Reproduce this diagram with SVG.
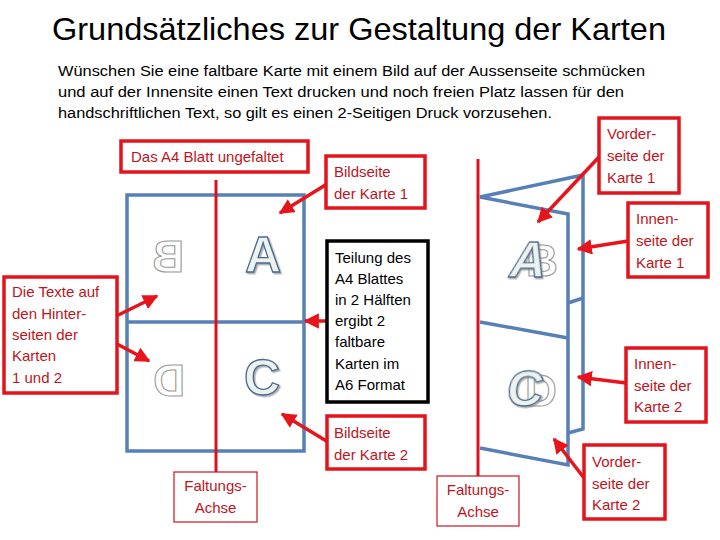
<svg xmlns="http://www.w3.org/2000/svg" width="720" height="540" viewBox="0 0 720 540">
<defs>
<style>
.title{font-family:"Liberation Sans",Arial,sans-serif;font-size:32px;fill:#000}
.para{font-family:"Liberation Sans",Arial,sans-serif;font-size:15.5px;fill:#000}
.rbox{fill:#fff;stroke:#E3141C;stroke-width:3.5}
.tbox{fill:#fff;stroke:#C8161E;stroke-width:1.2}
.kbox{fill:#fff;stroke:#000;stroke-width:3.5}
.rt{font-family:"Liberation Sans",Arial,sans-serif;font-size:15px;fill:#C0141C}
.kt{font-family:"Liberation Sans",Arial,sans-serif;font-size:15px;fill:#000}
.blue{fill:none;stroke:#5780B6;stroke-width:3.5;stroke-linejoin:miter}
.fold{stroke:#D9141E;stroke-width:3;fill:none}
.arr{stroke:#E8141C;stroke-width:3.5;fill:none;marker-end:url(#ah)}
.big{font-family:"Liberation Sans",Arial,sans-serif;font-weight:bold;font-size:50px;fill:#EEF2EE;stroke:#4A6B90;stroke-width:1.3}
.ghost{font-family:"Liberation Sans",Arial,sans-serif;font-weight:bold;font-size:44px;fill:#fff;stroke:#9A9A9A;stroke-width:1.1}
</style>
<marker id="ah" viewBox="0 0 10 10" refX="9" refY="5" markerWidth="4.4" markerHeight="4.4" orient="auto" markerUnits="strokeWidth">
<path d="M0,0 L10,5 L0,10 z" fill="#E8141C"/>
</marker>
<filter id="sh" x="-20%" y="-20%" width="150%" height="150%">
<feDropShadow dx="1.5" dy="1.5" stdDeviation="0.6" flood-color="#777" flood-opacity="0.6"/>
</filter>
</defs>
<rect width="720" height="540" fill="#fff"/>

<g id="title"><text class="title" x="52" y="40" textLength="614" lengthAdjust="spacingAndGlyphs">Grundsätzliches zur Gestaltung der Karten</text></g>
<g id="intro">
<text class="para" x="58" y="76" textLength="587" lengthAdjust="spacingAndGlyphs">Wünschen Sie eine faltbare Karte mit einem Bild auf der Aussenseite schmücken</text>
<text class="para" x="58" y="97" textLength="566" lengthAdjust="spacingAndGlyphs">und auf der Innensite einen Text drucken und noch freien Platz lassen für den</text>
<text class="para" x="58" y="118" textLength="494" lengthAdjust="spacingAndGlyphs">handschriftlichen Text, so gilt es einen 2-Seitigen Druck vorzusehen.</text>
</g>

<g id="sheet-flat">
<rect class="blue" x="127" y="195" width="177" height="256"/>
<line class="blue" x1="127" y1="322" x2="304" y2="322"/>
<text class="ghost" transform="translate(184,272) scale(-1,1)" x="0" y="0">B</text>
<text class="ghost" transform="translate(185,396) scale(-1,1)" x="0" y="0">D</text>
<text class="big" x="245" y="272" filter="url(#sh)">A</text>
<text class="big" x="244" y="395" filter="url(#sh)">C</text>
</g>

<g id="sheet-folded">
<polyline class="blue" points="480,197 583,175 583,429 568,433"/>
<line class="blue" x1="568" y1="303" x2="583" y2="298"/>
<polygon points="480,197 568,214 568,465 480,448" fill="#fff" stroke="none"/>
<polyline class="blue" points="480,197 568,214 568,465 480,448"/>
<line class="blue" x1="480" y1="322" x2="568" y2="338"/>
<text class="ghost" x="526" y="276" font-size="40">B</text>
<text class="big" x="0" y="0" transform="translate(507,277) skewX(-14)" filter="url(#sh)">A</text>
<text class="ghost" x="525" y="406" font-size="40">D</text>
<text class="big" x="0" y="0" transform="translate(505,406) skewX(-8)" filter="url(#sh)">C</text>
</g>

<g id="connectors">
<line class="fold" x1="216" y1="180" x2="216" y2="472"/>
<line class="fold" x1="478" y1="159" x2="478" y2="476"/>
<line class="arr" x1="599" y1="157" x2="538" y2="222"/>
<line class="arr" x1="628" y1="241" x2="578" y2="249"/>
<line class="arr" x1="626" y1="383" x2="578" y2="377"/>
<line class="arr" x1="584" y1="478" x2="554" y2="439"/>
<line class="arr" x1="327" y1="184" x2="280" y2="213"/>
<line class="arr" x1="327" y1="321" x2="305" y2="321"/>
<line class="arr" x1="328" y1="442" x2="282" y2="414"/>
<line class="arr" x1="102" y1="323" x2="157" y2="296"/>
<line class="arr" x1="102" y1="336" x2="149" y2="361"/>
</g>

<g id="box-a4">
<rect class="rbox" x="121" y="141" width="187" height="31"/>
<text class="rt" x="131" y="162">Das A4 Blatt ungefaltet</text>
</g>
<g id="box-rueckseiten">
<rect class="rbox" x="4" y="277" width="113" height="116"/>
<text class="rt" x="12" y="297">Die Texte auf</text>
<text class="rt" x="12" y="319">den Hinter-</text>
<text class="rt" x="12" y="340">seiten der</text>
<text class="rt" x="12" y="361">Karten</text>
<text class="rt" x="12" y="383">1 und 2</text>
</g>
<g id="box-bildseite1">
<rect class="rbox" x="326" y="156" width="99" height="52"/>
<text class="rt" x="334" y="177">Bildseite</text>
<text class="rt" x="334" y="199">der Karte 1</text>
</g>
<g id="box-teilung">
<rect class="kbox" x="327" y="241" width="101" height="161"/>
<text class="kt" x="335" y="263">Teilung des</text>
<text class="kt" x="335" y="284">A4 Blattes</text>
<text class="kt" x="335" y="305">in 2 Hälften</text>
<text class="kt" x="335" y="326">ergibt 2</text>
<text class="kt" x="335" y="347">faltbare</text>
<text class="kt" x="335" y="369">Karten im</text>
<text class="kt" x="335" y="390">A6 Format</text>
</g>
<g id="box-bildseite2">
<rect class="rbox" x="327" y="416" width="98" height="53"/>
<text class="rt" x="334" y="438">Bildseite</text>
<text class="rt" x="334" y="460">der Karte 2</text>
</g>
<g id="box-faltung1">
<rect class="tbox" x="174" y="472" width="83" height="50"/>
<text class="rt" x="215.5" y="491" text-anchor="middle">Faltungs-</text>
<text class="rt" x="215.5" y="513" text-anchor="middle">Achse</text>
</g>
<g id="box-faltung2">
<rect class="tbox" x="437" y="476" width="82" height="50"/>
<text class="rt" x="478" y="495" text-anchor="middle">Faltungs-</text>
<text class="rt" x="478" y="517" text-anchor="middle">Achse</text>
</g>
<g id="box-vorder1">
<rect class="rbox" x="599" y="118" width="80" height="75"/>
<text class="rt" x="607" y="139">Vorder-</text>
<text class="rt" x="607" y="161">seite der</text>
<text class="rt" x="607" y="183">Karte 1</text>
</g>
<g id="box-innen1">
<rect class="rbox" x="628" y="203" width="80" height="74"/>
<text class="rt" x="636" y="224">Innen-</text>
<text class="rt" x="636" y="246">seite der</text>
<text class="rt" x="636" y="268">Karte 1</text>
</g>
<g id="box-innen2">
<rect class="rbox" x="626" y="348" width="80" height="74"/>
<text class="rt" x="634" y="369">Innen-</text>
<text class="rt" x="634" y="391">seite der</text>
<text class="rt" x="634" y="412">Karte 2</text>
</g>
<g id="box-vorder2">
<rect class="rbox" x="584" y="445" width="81" height="74"/>
<text class="rt" x="592" y="467">Vorder-</text>
<text class="rt" x="592" y="489">seite der</text>
<text class="rt" x="592" y="510">Karte 2</text>
</g>
</svg>
